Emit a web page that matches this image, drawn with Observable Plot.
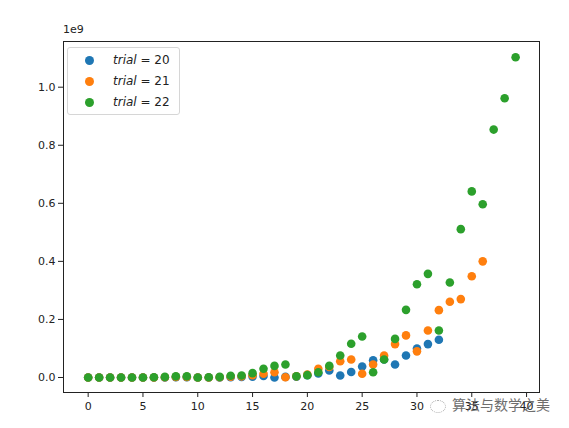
<!DOCTYPE html>
<html>
<head>
<meta charset="utf-8">
<script src="https://cdn.jsdelivr.net/npm/d3@7"></script>
<script src="https://cdn.jsdelivr.net/npm/@observablehq/plot@0.6"></script>
<style>
  html, body { margin: 0; padding: 0; background: #fff; }
  #wrap { position: relative; width: 569px; height: 428px; font-family: "DejaVu Sans", sans-serif; }
  #offset { position: absolute; left: 63px; top: 23px; font-size: 11px; color: #222; }
  #legend { position: absolute; left: 67px; top: 47px; width: 113px; height: 68px; box-sizing: border-box;
            border: 1px solid #d6d6d6; border-radius: 3px; background: rgba(255,255,255,0.8); }
  .li { position: absolute; left: 0; height: 16px; font-size: 12px; color: #222; white-space: nowrap; }
  .li .dot { position: absolute; left: 17px; top: 4px; width: 9px; height: 9px; border-radius: 50%; }
  .li .lab { position: absolute; left: 45px; top: 0px; line-height: 16px; }
  .li i { font-family: "DejaVu Sans", sans-serif; }
  #wm { position: absolute; left: 430px; top: 394px; font-size: 14px; color: #555; opacity: 0.85;
        font-family: "Noto Sans CJK SC", sans-serif; white-space: nowrap; }
  #wm .ic { display: inline-block; width: 14px; height: 11px; border: 1.5px dotted #999; border-radius: 50%; margin-right: 6px; vertical-align: middle; }
</style>
</head>
<body>
<div id="wrap"></div>
<script>
// x positions (iteration index)
const xs20 = d3.range(0, 33);
const xs21 = d3.range(0, 37);
const xs22 = d3.range(0, 40);
// values in units of 1e9
const trial20 = [0.000,0.000,0.000,0.000,0.000,0.000,0.000,0.000,0.001,0.001,0.000,0.000,0.000,0.001,0.002,0.003,
                 0.005,0.000,0.002,0.003,0.008,0.014,0.024,0.007,0.019,0.038,0.059,0.062,0.045,0.076,0.100,0.115,0.130];
const trial21 = [0.000,0.000,0.000,0.000,0.000,0.000,0.000,0.001,0.002,0.002,0.000,0.000,0.001,0.003,0.004,0.008,
                 0.013,0.018,0.001,0.004,0.010,0.030,0.036,0.056,0.062,0.013,0.045,0.076,0.115,0.145,0.090,0.162,
                 0.232,0.261,0.270,0.349,0.400];
const trial22 = [0.000,0.000,0.000,0.000,0.000,0.000,0.001,0.002,0.004,0.004,0.000,0.001,0.002,0.006,0.007,0.015,
                 0.030,0.040,0.045,0.004,0.008,0.018,0.040,0.076,0.116,0.141,0.018,0.062,0.133,0.233,0.321,0.357,
                 0.162,0.327,0.511,0.641,0.597,0.854,0.962,1.103];
const trials = ["20", "21", "22"];
const colors = ["#1f77b4", "#ff7f0e", "#2ca02c"];
const xTicks = [0, 5, 10, 15, 20, 25, 30, 35, 40];
const yTicks = [0.0, 0.2, 0.4, 0.6, 0.8, 1.0];

const data = [];
[[xs20, trial20], [xs21, trial21], [xs22, trial22]].forEach(([xs, ys], k) => {
  xs.forEach((x, i) => data.push({x, y: ys[i], trial: trials[k]}));
});

const chart = Plot.plot({
  width: 569,
  height: 428,
  marginLeft: 63,
  marginRight: 30,
  marginTop: 41,
  marginBottom: 36,
  style: {fontFamily: "DejaVu Sans, sans-serif", fontSize: "11px", color: "#222", background: "#fff"},
  x: {domain: [-2.25, 41.18], ticks: xTicks, tickSize: 5, tickPadding: 5, label: null},
  y: {domain: [-0.0517, 1.1574], ticks: yTicks, tickSize: 5, tickPadding: 3, tickFormat: d3.format(".1f"), label: null},
  color: {domain: trials, range: colors},
  marks: [
    Plot.dot(data, {x: "x", y: "y", fill: "trial", r: 4.3, stroke: "none"}),
    Plot.frame({stroke: "#222", strokeWidth: 1})
  ]
});
const wrap = document.getElementById("wrap");
wrap.appendChild(chart);

const off = document.createElement("div");
off.id = "offset"; off.textContent = "1e9";
wrap.appendChild(off);

const leg = document.createElement("div");
leg.id = "legend";
trials.forEach((t, i) => {
  const li = document.createElement("div");
  li.className = "li";
  li.style.top = (4 + i * 21) + "px";
  li.innerHTML = `<span class="dot" style="background:${colors[i]}"></span><span class="lab"><i>trial</i> = ${t}</span>`;
  leg.appendChild(li);
});
wrap.appendChild(leg);

const wm = document.createElement("div");
wm.id = "wm";
wm.innerHTML = `<span class="ic"></span>算法与数学之美`;
wrap.appendChild(wm);
</script>
</body>
</html>
